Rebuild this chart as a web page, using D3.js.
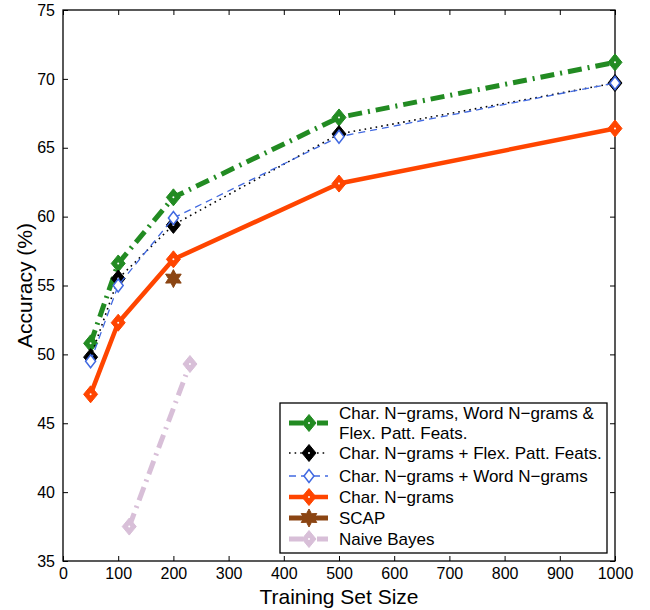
<!DOCTYPE html>
<html>
<head>
<meta charset="utf-8">
<script src="https://cdn.jsdelivr.net/npm/d3@7"></script>
<style>
  body { margin:0; background:#fff; }
  svg text { font-family: "Liberation Sans", Arial, Helvetica, sans-serif; }
</style>
</head>
<body>
<div id="chart"></div>
<script>
// values
var sizes    = [50, 100, 200, 500, 1000];
var allFeats = [50.8, 56.6, 61.4, 67.2, 71.2];
var charFlex = [49.8, 55.5, 59.4, 66.0, 69.7];
var charWord = [49.5, 55.0, 59.9, 65.8, 69.7];
var charOnly = [47.1, 52.3, 56.9, 62.4, 66.4];
var scapX    = [200];
var scapY    = [55.5];
var nbX      = [120, 230];
var nbY      = [37.5, 49.3];
var xTicks   = [0,100,200,300,400,500,600,700,800,900,1000];
var yTicks   = [35,40,45,50,55,60,65,70,75];

var W = 650, H = 610;
var m = {l:63, r:35, t:10, b:49};
var svg = d3.select('#chart').append('svg').attr('width',W).attr('height',H);
var x = d3.scaleLinear().domain([0,1000]).range([m.l, W-m.r]);
var y = d3.scaleLinear().domain([35,75]).range([H-m.b, m.t]);
var pw = W-m.r-m.l, ph = H-m.b-m.t;

function zip(xs, ys){ return xs.map(function(v,i){ return [v, ys[i]]; }); }

var series = [
  {name:['Char. N\u2212grams, Word N\u2212grams &','Flex. Patt. Feats.'], pts:zip(sizes,allFeats),
   color:'#228b22', width:5, dash:'14,6,2,6', marker:'diamond', ms:[7,8.5], fill:'#228b22', dot:true},
  {name:['Char. N\u2212grams + Flex. Patt. Feats.'], pts:zip(sizes,charFlex),
   color:'#000', width:1.6, dash:'1.6,4', marker:'diamond', ms:[7,8.5], fill:'#000', dot:true},
  {name:['Char. N\u2212grams + Word N\u2212grams'], pts:zip(sizes,charWord),
   color:'#4169e1', width:1.3, dash:'7,5', marker:'diamond', ms:[5,6.5], fill:'#fff', dot:false},
  {name:['Char. N\u2212grams'], pts:zip(sizes,charOnly),
   color:'#ff4500', width:4.5, dash:null, marker:'diamond', ms:[7,8.5], fill:'#ff4500', dot:true},
  {name:['SCAP'], pts:zip(scapX,scapY),
   color:'#8b4513', width:5, dash:null, marker:'star', ms:[9,9], fill:'#8b4513', dot:false},
  {name:['Naive Bayes'], pts:zip(nbX,nbY),
   color:'#d8bfd8', width:5, dash:'14,6,2,6', marker:'diamond', ms:[7,8.5], fill:'#d8bfd8', dot:true}
];

function markerPath(type, s){
  var sx = s[0], sy = s[1];
  if(type==='diamond') return 'M0,'+(-sy)+'L'+sx+',0L0,'+sy+'L'+(-sx)+',0Z';
  // six-pointed star
  var p = [];
  for(var i=0;i<12;i++){
    var a = -Math.PI/2 + i*Math.PI/6, r = i%2===0 ? sx : sx*0.55;
    p.push((r*Math.cos(a)).toFixed(2)+','+(r*Math.sin(a)).toFixed(2));
  }
  return 'M'+p.join('L')+'Z';
}

function drawMarker(g, d, cx, cy){
  g.append('path').attr('d',markerPath(d.marker,d.ms)).attr('transform','translate('+cx+','+cy+')')
    .attr('fill',d.fill).attr('stroke',d.color).attr('stroke-width',d.fill==='#fff'?1.5:1);
  if(d.dot) g.append('circle').attr('cx',cx).attr('cy',cy).attr('r',1).attr('fill','#fff');
}

// axes box with inward ticks (MATLAB style)
var ax = svg.append('g');
ax.append('rect').attr('x',m.l).attr('y',m.t).attr('width',pw).attr('height',ph)
  .attr('fill','none').attr('stroke','#000').attr('stroke-width',1.3);
var bottom = d3.axisBottom(x).tickValues(xTicks).tickFormat(d3.format('d')).tickSizeInner(-5).tickSizeOuter(0).tickPadding(7);
var left = d3.axisLeft(y).tickValues(yTicks).tickSizeInner(-5).tickSizeOuter(0).tickPadding(8);
var gb = ax.append('g').attr('transform','translate(0,'+(H-m.b)+')').call(bottom);
var gl = ax.append('g').attr('transform','translate('+m.l+',0)').call(left);
ax.append('g').attr('transform','translate(0,'+m.t+')').call(d3.axisTop(x).tickValues(xTicks).tickSizeInner(-5).tickSizeOuter(0).tickFormat(''));
ax.append('g').attr('transform','translate('+(W-m.r)+',0)').call(d3.axisRight(y).tickValues(yTicks).tickSizeInner(-5).tickSizeOuter(0).tickFormat(''));
ax.selectAll('.domain').remove();
ax.selectAll('.tick line').attr('stroke','#000').attr('stroke-width',1);
[gb,gl].forEach(function(g){ g.selectAll('text').attr('font-size','16px').attr('fill','#000'); });
gb.selectAll('text').attr('dy','0.71em');

svg.append('text').attr('x',(m.l+W-m.r)/2).attr('y',604).attr('text-anchor','middle')
  .attr('font-size','21px').text('Training Set Size');
svg.append('text').attr('transform','translate(32,'+((m.t+H-m.b)/2)+') rotate(-90)').attr('text-anchor','middle')
  .attr('font-size','21px').text('Accuracy (%)');

// lines and markers
var line = d3.line().x(function(d){ return x(d[0]); }).y(function(d){ return y(d[1]); });
var plot = svg.append('g');
series.forEach(function(d){
  plot.append('path').attr('d',line(d.pts)).attr('fill','none').attr('stroke',d.color)
    .attr('stroke-width',d.width).attr('stroke-dasharray',d.dash).attr('stroke-linejoin','round');
  d.pts.forEach(function(p){ drawMarker(plot, d, x(p[0]), y(p[1])); });
});

// legend
var lg = svg.append('g');
lg.append('rect').attr('x',280).attr('y',403).attr('width',327).attr('height',150)
  .attr('fill','#fff').attr('stroke','#000').attr('stroke-width',1.3);
var rowY = [423, 453, 476, 497, 518, 539];
series.forEach(function(d,i){
  var cy = rowY[i];
  lg.append('line').attr('x1',289).attr('x2',328).attr('y1',cy).attr('y2',cy)
    .attr('stroke',d.color).attr('stroke-width',d.width).attr('stroke-dasharray',d.dash);
  drawMarker(lg, d, 309, cy);
  var t = lg.append('text').attr('x',339).attr('font-size','17px').attr('fill','#000');
  if(d.name.length===2){
    t.append('tspan').attr('x',339).attr('y',cy-4).text(d.name[0]);
    t.append('tspan').attr('x',339).attr('y',cy+16).text(d.name[1]);
  } else {
    t.attr('y',cy+6).text(d.name[0]);
  }
});
</script>
</body>
</html>
